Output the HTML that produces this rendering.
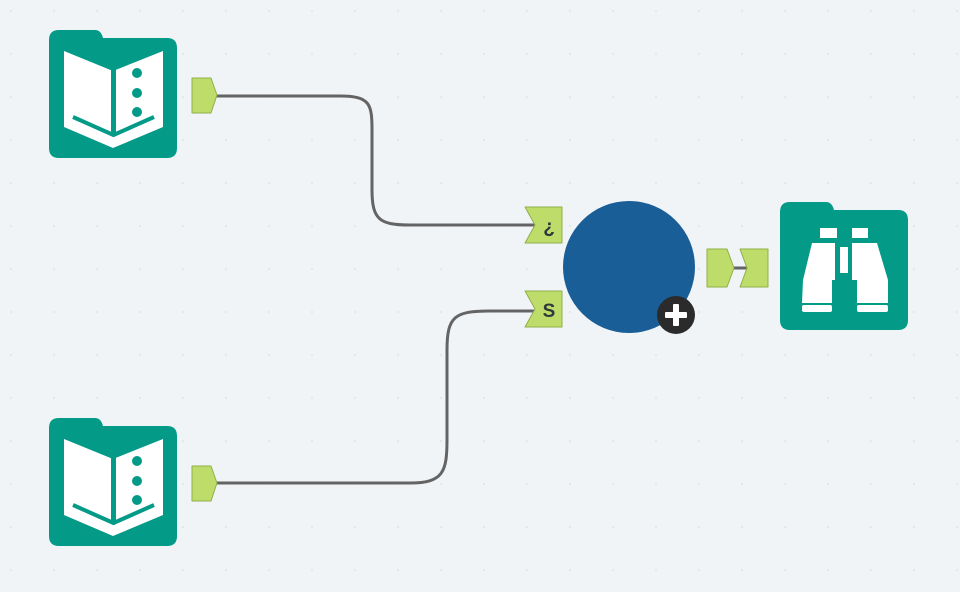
<!DOCTYPE html>
<html><head><meta charset="utf-8"><style>
html,body{margin:0;padding:0;background:#f1f4f6;}
svg{display:block}
</style></head><body>
<svg width="960" height="592" viewBox="0 0 960 592" xmlns="http://www.w3.org/2000/svg">
<defs>
<pattern id="dots" width="43" height="43" patternUnits="userSpaceOnUse" x="10" y="10">
<circle cx="1" cy="1" r="0.8" fill="#d3d8dc"/>
</pattern>
<g id="book">
<path d="M49,40 Q49,30 59,30 L95,30 Q101,30 103,38 L167,38 Q177,38 177,48 L177,148 Q177,158 167,158 L59,158 Q49,158 49,148 Z" fill="#039a88"/>
<polygon points="64,51 113,71 163,51 163,127 113,148 64,127" fill="#fff"/>
<line x1="113.5" y1="68" x2="113.5" y2="134" stroke="#039a88" stroke-width="5"/>
<polyline points="73,117 113.5,135 154,117" fill="none" stroke="#039a88" stroke-width="4"/>
<circle cx="137" cy="73" r="5" fill="#039a88"/>
<circle cx="137" cy="93" r="5" fill="#039a88"/>
<circle cx="137" cy="112" r="5" fill="#039a88"/>
</g>
<g id="out">
<path d="M192,78 L211,78 L217,95 L211,113 L192,113 Z" fill="#bedc6a" stroke="#8fb04a" stroke-width="1" stroke-linejoin="round"/>
</g>
</defs>
<rect width="960" height="592" fill="url(#dots)"/>
<g fill="none" stroke="#646464" stroke-width="3">
<path d="M215,96 H340 C370,96 372,104 372,130 V190 C372,220 380,225 410,225 H535"/>
<path d="M215,483 H410 C443,483 447,472 447,440 V350 C447,316 455,311 490,311 H535"/>
<path d="M733,268 H747"/>
</g>
<use href="#book"/>
<use href="#out"/>
<use href="#book" transform="translate(0,388)"/>
<use href="#out" transform="translate(0,388)"/>
<path d="M525,207 L562,207 L562,243 L525,243 L535,225 Z" fill="#bedc6a" stroke="#8fb04a" stroke-width="1" stroke-linejoin="round"/>
<text x="549" y="233" font-family="Liberation Sans, sans-serif" font-weight="bold" font-size="19" fill="#2d3a3a" text-anchor="middle">¿</text>
<path d="M525,291 L562,291 L562,327 L525,327 L535,309 Z" fill="#bedc6a" stroke="#8fb04a" stroke-width="1" stroke-linejoin="round"/>
<text x="549" y="317" font-family="Liberation Sans, sans-serif" font-weight="bold" font-size="19" fill="#2d3a3a" text-anchor="middle">S</text>
<circle cx="629" cy="267" r="66" fill="#1a5e98"/>
<circle cx="676" cy="315" r="19" fill="#2b2b2b"/>
<rect x="665" y="312" width="22" height="6" rx="1" fill="#fff"/>
<rect x="673" y="304" width="6" height="22" rx="1" fill="#fff"/>
<path d="M707,249 L727,249 L734,268 L727,287 L707,287 Z" fill="#bedc6a" stroke="#8fb04a" stroke-width="1" stroke-linejoin="round"/>
<path d="M740,249 L768,249 L768,287 L740,287 L747,268 Z" fill="#bedc6a" stroke="#8fb04a" stroke-width="1" stroke-linejoin="round"/>
<path d="M780,212 Q780,202 790,202 L826,202 Q832,202 834,210 L898,210 Q908,210 908,220 L908,320 Q908,330 898,330 L790,330 Q780,330 780,320 Z" fill="#039a88"/>
<g fill="#fff">
<rect x="820" y="228" width="17" height="10"/>
<rect x="852" y="228" width="16" height="10"/>
<polygon points="812,243 835,243 835,280 832,280 832,303 802,303 803,280"/>
<polygon points="852,243 877,243 888,280 888,303 857,303 857,280 852,280"/>
<rect x="840" y="247" width="8" height="26"/>
<rect x="802" y="305" width="30" height="7" rx="2"/>
<rect x="857" y="305" width="31" height="7" rx="2"/>
</g>
</svg>
</body></html>
